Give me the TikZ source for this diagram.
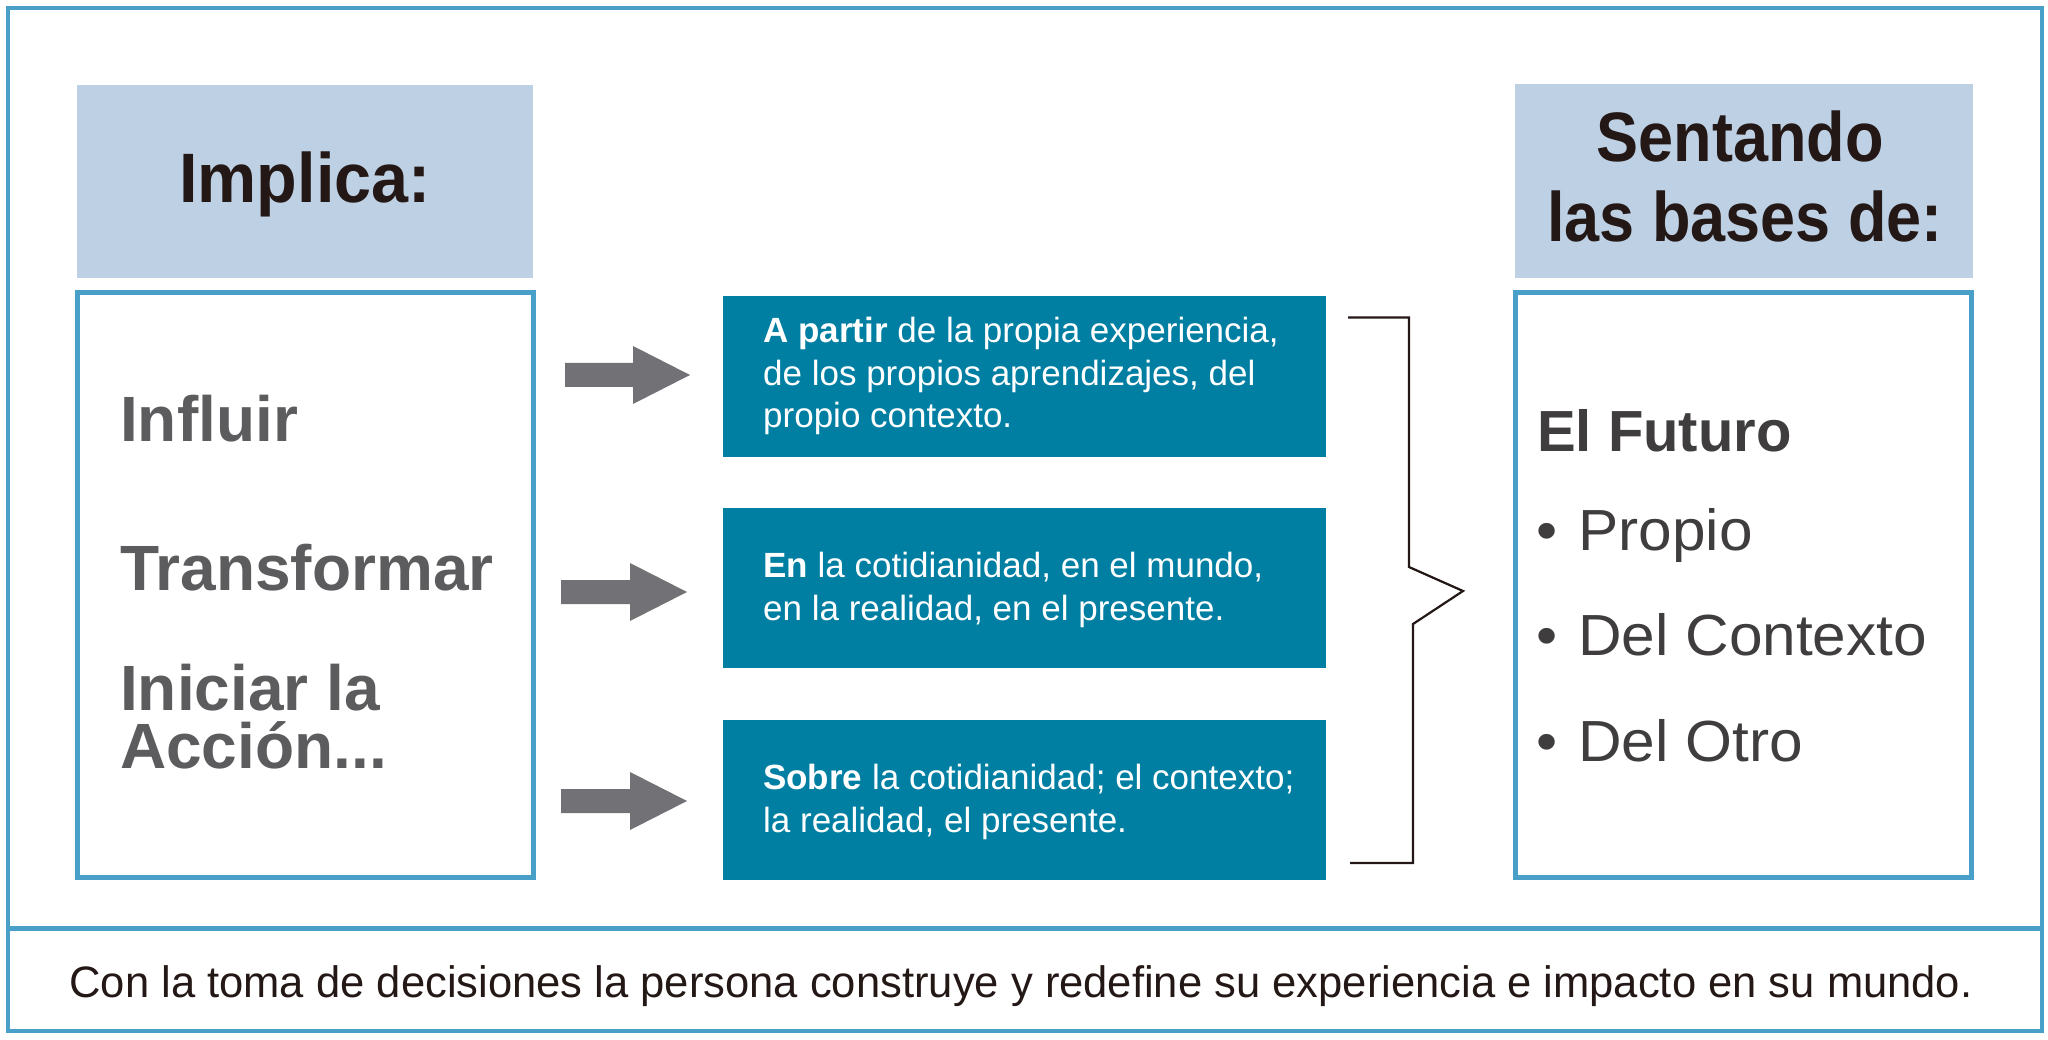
\documentclass[tikz,border=0pt]{standalone}
\usepackage{fontspec}
\setmainfont{Liberation Sans}
\newfontfamily\headfont[FakeStretch=0.9]{Liberation Sans}
\newfontfamily\implfont[FakeStretch=0.95]{Liberation Sans}
\newfontfamily\rightfont[FakeStretch=1.04]{Liberation Sans}
\newfontfamily\botfont[FakeStretch=0.99]{Liberation Sans}
\definecolor{frameblue}{HTML}{48A0C8}
\definecolor{headfill}{HTML}{BED0E4}
\definecolor{teal}{HTML}{007FA3}
\definecolor{arrowgray}{HTML}{727175}
\definecolor{leftgray}{HTML}{5C5C5E}
\definecolor{rightgray}{HTML}{3F3D3E}
\definecolor{inkdark}{HTML}{231815}
\begin{document}
\begin{tikzpicture}[x=1pt,y=-1pt,
  frame/.style={draw=frameblue,line width=5pt},
  headbox/.style={fill=headfill},
  tealbox/.style={fill=teal},
  headtxt/.style={text=inkdark,font=\headfont\bfseries\fontsize{70}{80}\selectfont,inner sep=0pt},
  lefttxt/.style={text=leftgray,font=\bfseries\fontsize{64}{58}\selectfont,inner sep=0pt,anchor=base west,align=left},
  tealtxt/.style={text=white,font=\fontsize{35}{42.5}\selectfont,inner sep=0pt,anchor=west,align=left},
  righttxt/.style={text=rightgray,font=\rightfont\fontsize{58}{70}\selectfont,inner sep=0pt,anchor=base west},
  blockarrow/.style={fill=arrowgray},
  bracket/.style={draw=inkdark,line width=2.2pt}]
\useasboundingbox (0,0) rectangle (2048,1040);
% outer frame and divider
\draw[frame,line width=4.5pt] (8,8) rectangle (2042,1031);
\draw[frame] (8,928) -- (2042,928);
% header boxes
\fill[headbox] (77,85) rectangle (533,278);
\fill[headbox] (1515,84) rectangle (1973,278);
\node[headtxt,font=\implfont\bfseries\fontsize{70}{80}\selectfont,anchor=base] (implica) at (305,203) {Implica:};
\node[headtxt,anchor=base] (sentando) at (1740,162) {Sentando};
\node[headtxt,anchor=base] (bases) at (1745,242) {las bases de:};
% left and right outlined boxes
\draw[frame] (77,293) rectangle (533,877);
\draw[frame] (1515,293) rectangle (1971,877);
\node[lefttxt] (influir) at (120,441) {Influir};
\node[lefttxt] (transf) at (120,590) {Transformar};
\node[lefttxt,anchor=north west] (iniciar) at (120,664) {Iniciar la\\Acción...};
% teal boxes
\fill[tealbox] (723,296) rectangle (1326,457);
\fill[tealbox] (723,508) rectangle (1326,668);
\fill[tealbox] (723,720) rectangle (1326,880);
\node[tealtxt] (t1) at (763,376) {\textbf{A partir} de la propia experiencia,\\de los propios aprendizajes, del\\propio contexto.};
\node[tealtxt] (t2) at (763,590) {\textbf{En} la cotidianidad, en el mundo,\\en la realidad, en el presente.};
\node[tealtxt] (t3) at (763,802) {\textbf{Sobre} la cotidianidad; el contexto;\\la realidad, el presente.};
% block arrows
\coordinate (a1) at (565,375);
\coordinate (a2) at (561,592);
\coordinate (a3) at (561,801);
\fill[blockarrow] (a1) ++(0,-12) -- ++(68,0) -- ++(0,-17) -- ++(57,29) -- ++(-57,29) -- ++(0,-17) -- ++(-68,0) -- cycle;
\fill[blockarrow] (a2) ++(0,-12) -- ++(69,0) -- ++(0,-17) -- ++(57,29) -- ++(-57,29) -- ++(0,-17) -- ++(-69,0) -- cycle;
\fill[blockarrow] (a3) ++(0,-12) -- ++(69,0) -- ++(0,-17) -- ++(57,29) -- ++(-57,29) -- ++(0,-17) -- ++(-69,0) -- cycle;
% bracket
\draw[bracket] (1348,317.5) -- (1409,317.5) -- (1409,567) -- (1463,591) -- (1413,624) -- (1413,863) -- (1350,863);
% right texts
\node[righttxt,font=\bfseries\fontsize{58}{70}\selectfont] (futuro) at (1537,451) {El Futuro};
\node[righttxt] (propio) at (1536,550) {•\hspace{21pt}Propio};
\node[righttxt] (contexto) at (1536,655) {•\hspace{21pt}Del Contexto};
\node[righttxt] (otro) at (1536,761) {•\hspace{21pt}Del Otro};
% bottom sentence
\node[text=inkdark,font=\botfont\fontsize{44}{50}\selectfont,inner sep=0pt,anchor=base] (bottom) at (1021,997) {Con la toma de decisiones la persona construye y redefine su experiencia e impacto en su mundo.};
\end{tikzpicture}
\end{document}
